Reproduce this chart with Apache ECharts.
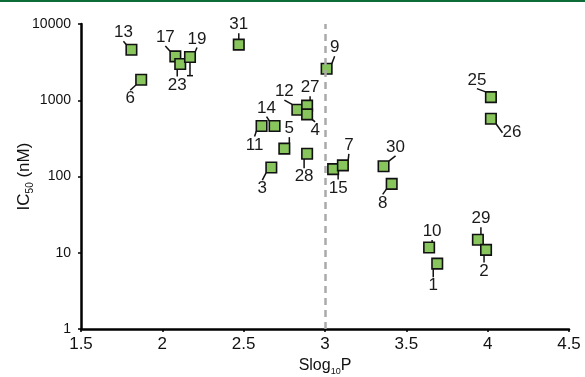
<!DOCTYPE html>
<html>
<head>
<meta charset="utf-8">
<script src="https://cdn.jsdelivr.net/npm/echarts@6/dist/echarts.min.js"></script>
<style>
  html, body { margin: 0; padding: 0; background: #fff; }
  #chart { width: 585px; height: 377px; }
</style>
</head>
<body>
<div id="chart"></div>
<script>
// compound ids, Slog10P (x) and IC50 in nM (y)
const ids = ['13', '6', '17', '23', '19', '31', '9', '12', '27', '4', '14', '11', '5', '28', '3',
  '15', '7', '30', '8', '25', '26', '10', '1', '29', '2']
const slogP = [1.81, 1.87, 2.08, 2.11, 2.17, 2.47, 3.01, 2.83, 2.89, 2.89, 2.69, 2.61, 2.75, 2.89, 2.67,
  3.05, 3.11, 3.36, 3.41, 4.02, 4.02, 3.64, 3.69, 3.94, 3.99]
const ic50 = [4600, 1860, 3760, 2990, 3690, 5360, 2590, 752, 849, 652, 459, 459, 232, 199, 131,
  125, 140, 136, 80, 1100, 573, 11.7, 7.2, 14.8, 10.9]
// where each number label sits relative to its square
const labelDx = [-8, -11, -10, -3, 7, 0, 8, -13, 3, 8, -8, -7, 5, -3, -9, 5, 6, 12, -9, -14, 21, 3, -4, 3, -2]
const labelDy = [-17, 19, -19, 21, -18, -20, -21, -18, -18, 16, -18, 19, -20, 23, 21, 19, -20, -19, 19, -17, 14, -16, 22, -21, 21]

// error bar on compound 19: [x, low, high]
const errorBars = [[2.17, 2100, 3690]]

const xTicks = { min: 1.5, max: 4.5, step: 0.5 }
const yRange = { min: 1, max: 10000 }

const FONT = '"Liberation Sans", Arial, Helvetica, sans-serif'

const chart = echarts.init(document.getElementById('chart'))

chart.setOption({
  animation: false,
  graphic: [
    {
      type: 'rect',
      left: 0,
      top: 0,
      shape: { width: 585, height: 2 },
      style: { fill: '#0d6b36' }
    }
  ],
  grid: { left: 81, right: 16, top: 24, bottom: 48, outerBoundsMode: 'none', containLabel: false },
  xAxis: {
    type: 'value',
    min: xTicks.min,
    max: xTicks.max,
    interval: xTicks.step,
    name: '{a|Slog}{s|10}{a|P}',
    nameLocation: 'middle',
    nameGap: 26,
    nameTextStyle: {
      rich: {
        a: { fontFamily: FONT, fontSize: 16, color: '#111' },
        s: { fontFamily: FONT, fontSize: 9, color: '#111', verticalAlign: 'bottom', padding: [12, 0, 0, 0] }
      }
    },
    axisLine: { lineStyle: { color: '#000', width: 2.5 } },
    axisTick: { length: 3, lineStyle: { color: '#000', width: 1.5 } },
    axisLabel: { color: '#111', fontFamily: FONT, fontSize: 17, margin: 7 },
    splitLine: { show: false }
  },
  yAxis: {
    type: 'log',
    logBase: 10,
    min: yRange.min,
    max: yRange.max,
    name: '{a|IC}{s|50}{a| (nM)}',
    nameLocation: 'middle',
    nameGap: 46,
    nameMoveOverlap: false,
    nameTextStyle: {
      rich: {
        a: { fontFamily: FONT, fontSize: 17, color: '#111' },
        s: { fontFamily: FONT, fontSize: 10, color: '#111', verticalAlign: 'bottom', padding: [11, 0, 0, 0] }
      }
    },
    axisLine: { show: true, lineStyle: { color: '#000', width: 2.5 } },
    axisTick: { show: true, length: 3, lineStyle: { color: '#000', width: 1.5 } },
    axisLabel: { color: '#111', fontFamily: FONT, fontSize: 14, margin: 10, formatter: v => String(v) },
    splitLine: { show: false }
  },
  series: [
    {
      type: 'custom',
      z: 1,
      data: errorBars,
      renderItem: (params, api) => {
        const lo = api.coord([api.value(0), api.value(1)])
        const hi = api.coord([api.value(0), api.value(2)])
        const style = { stroke: '#111', lineWidth: 1.5 }
        return {
          type: 'group',
          children: [
            { type: 'line', shape: { x1: lo[0], y1: lo[1], x2: hi[0], y2: hi[1] }, style },
            { type: 'line', shape: { x1: lo[0] - 3, y1: lo[1], x2: lo[0] + 3, y2: lo[1] }, style }
          ]
        }
      }
    },
    {
      type: 'scatter',
      z: 3,
      symbol: 'rect',
      symbolSize: 10.5,
      data: slogP.map((x, i) => [x, ic50[i], ids[i]]),
      itemStyle: { color: '#88c65d', borderColor: '#111', borderWidth: 1.6, opacity: 1 },
      label: {
        show: true,
        position: 'inside',
        formatter: p => p.value[2],
        color: '#1a1a1a',
        fontFamily: FONT,
        fontSize: 17
      },
      labelLayout: p => ({ dx: labelDx[p.dataIndex], dy: labelDy[p.dataIndex] }),
      labelLine: { show: true, lineStyle: { color: '#111', width: 1.5 } },
      markLine: {
        silent: true,
        symbol: 'none',
        label: { show: false },
        lineStyle: { color: '#aaa', type: [7, 5], width: 2.5 },
        data: [{ xAxis: 3 }]
      }
    }
  ]
})
</script>
</body>
</html>
